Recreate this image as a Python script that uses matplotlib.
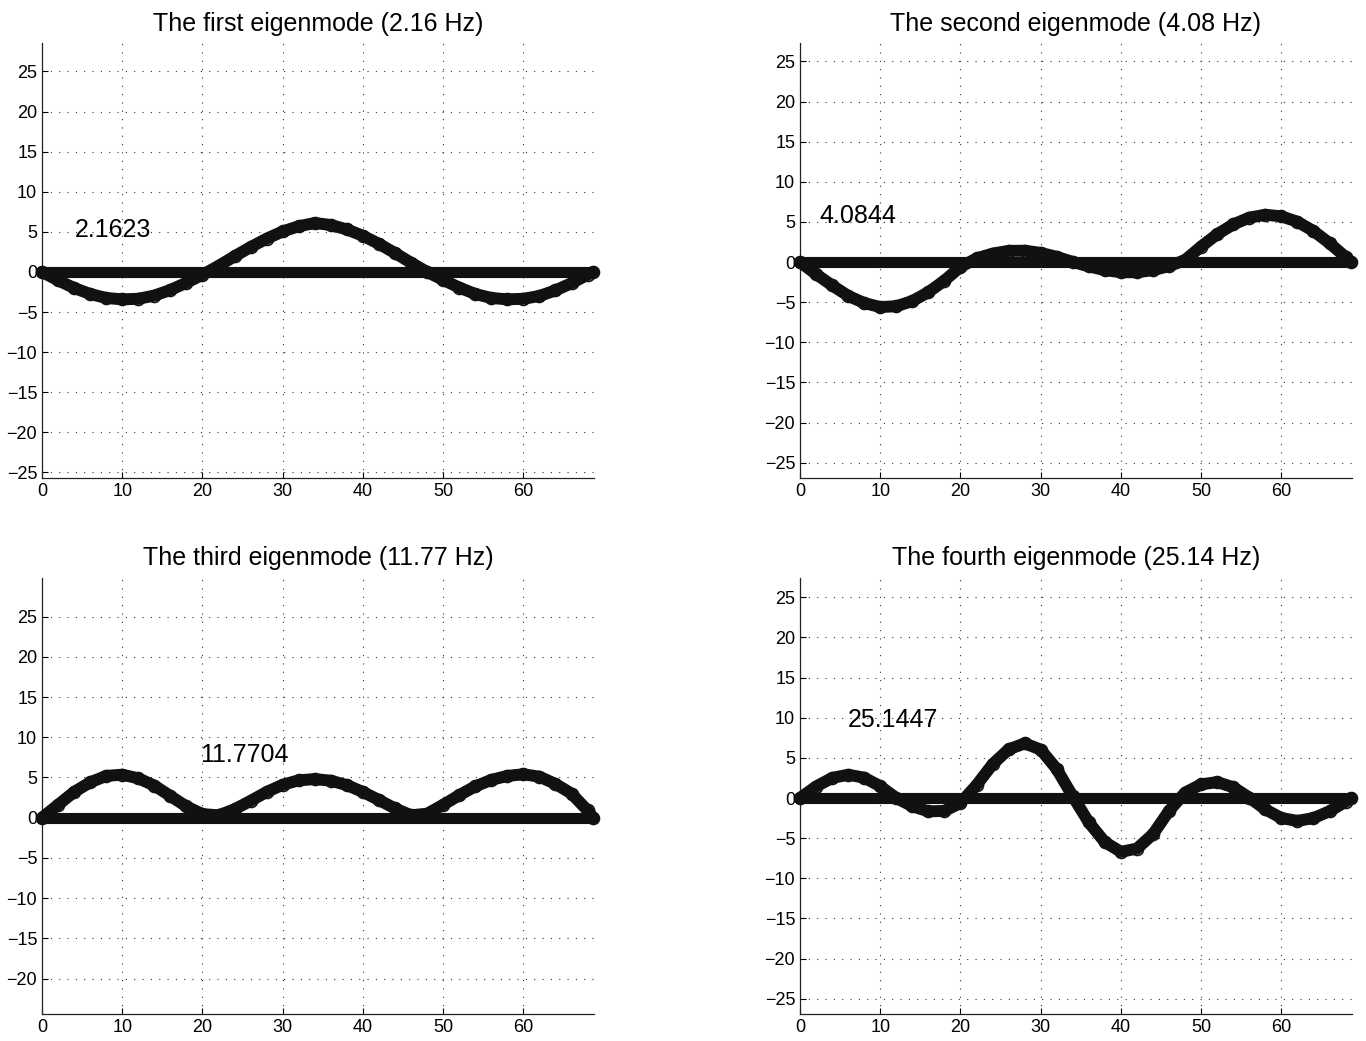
import matplotlib
matplotlib.use("Agg")
import matplotlib.pyplot as plt
from matplotlib.ticker import MultipleLocator

plt.rcParams['font.family'] = ['Liberation Sans', 'DejaVu Sans']
plt.rcParams['lines.scale_dashes'] = False

# ---- data ----
x_pos = [0, 2, 4, 6, 8, 10, 12, 14, 16, 18, 20, 22, 24, 26, 28, 30, 32, 34,
         36, 38, 40, 42, 44, 46, 48, 50, 52, 54, 56, 58, 60, 62, 64, 66, 68, 68.7]
beam_x = [0, 68.7]
beam_y = [0, 0]

mode1 = [0, -1.05, -2.0, -2.75, -3.25, -3.42, -3.35, -2.95, -2.25, -1.35, -0.35, 0.75,
         1.95, 3.1, 4.15, 5.05, 5.7, 6.1, 5.85, 5.3, 4.5, 3.5, 2.35, 1.15, 0.0, -1.0,
         -1.95, -2.75, -3.25, -3.42, -3.35, -3.0, -2.3, -1.4, -0.35, 0]
mode2 = [0, -1.5, -2.9, -4.2, -5.1, -5.6, -5.5, -4.85, -3.75, -2.3, -0.6, 0.46,
         1.06, 1.4, 1.42, 1.15, 0.65, 0.02, -0.54, -1.0, -1.26, -1.27, -1.0, -0.5,
         0.26, 1.94, 3.47, 4.7, 5.54, 5.9, 5.7, 5.03, 3.87, 2.36, 0.63, 0]
mode3 = [0, 1.6, 3.2, 4.4, 5.2, 5.35, 4.9, 4.0, 2.7, 1.4, 0.45, 0.3,
         1.05, 2.1, 3.2, 4.1, 4.65, 4.8, 4.6, 4.05, 3.2, 2.2, 1.15, 0.3,
         0.5, 1.6, 2.8, 3.9, 4.7, 5.2, 5.4, 5.1, 4.2, 3.0, 0.9, 0]
mode4 = [0, 1.43, 2.5, 2.9, 2.53, 1.47, 0.0, -1.03, -1.66, -1.61, -0.61, 1.6,
         4.2, 6.06, 6.8, 6.03, 3.6, 0.2, -3.04, -5.5, -6.7, -6.3, -4.5, -1.6,
         0.67, 1.7, 1.98, 1.34, 0.05, -1.42, -2.5, -2.85, -2.5, -1.65, -0.46, 0]

modes = [mode1, mode2, mode3, mode4]
titles = ["The first eigenmode (2.16 Hz)", "The second eigenmode (4.08 Hz)",
          "The third eigenmode (11.77 Hz)", "The fourth eigenmode (25.14 Hz)"]
freq_labels = ["2.1623", "4.0844", "11.7704", "25.1447"]
label_xy = [(4.1, 4.36), (2.4, 4.83), (19.7, 6.9), (6.0, 8.9)]
ylims = [(-25.7, 28.55), (-26.9, 27.3), (-24.4, 29.8), (-26.9, 27.4)]
xlim = (0, 68.8)
xticks = [0, 10, 20, 30, 40, 50, 60]

# ---- layout (pixel boxes) ----
W, H = 1366, 1041
boxes = [(42, 43, 594, 478), (800, 43, 1352, 478),
         (42, 578, 594, 1014), (800, 578, 1352, 1014)]

fig = plt.figure(figsize=(W / 100, H / 100), dpi=100)

for i in range(4):
    l, t, r, b = boxes[i]
    ax = fig.add_axes([l / W, 1 - b / H, (r - l) / W, (b - t) / H])
    ax.plot(beam_x, beam_y, color='#111111', lw=8.0, solid_capstyle='round',
            zorder=3, clip_on=False)
    ax.plot(x_pos, modes[i], color='#111111', lw=8.6, solid_capstyle='round',
            solid_joinstyle='round', zorder=4, clip_on=False)
    ax.plot(x_pos, modes[i], 'o', ms=8.6, mfc='none', mec='#111111', mew=1.2,
            zorder=4, clip_on=False)
    ax.set_xlim(*xlim)
    ax.set_ylim(*ylims[i])
    ax.set_xticks(xticks)
    ax.yaxis.set_major_locator(MultipleLocator(5))
    ax.grid(True, linestyle=(0, (0.8, 5.2)), color='#333333', linewidth=0.8)
    ax.set_axisbelow(True)
    for s in ['top', 'right']:
        ax.spines[s].set_visible(False)
    for s in ['left', 'bottom']:
        ax.spines[s].set_color('#222222')
        ax.spines[s].set_linewidth(0.9)
    ax.tick_params(direction='in', length=4, width=0.8, labelsize=13, colors='black')
    ax.set_title(titles[i], fontsize=18, pad=9)
    ax.text(label_xy[i][0], label_xy[i][1], freq_labels[i], fontsize=18,
            ha='left', va='baseline', zorder=5)

fig.savefig("out.png", dpi=100)
